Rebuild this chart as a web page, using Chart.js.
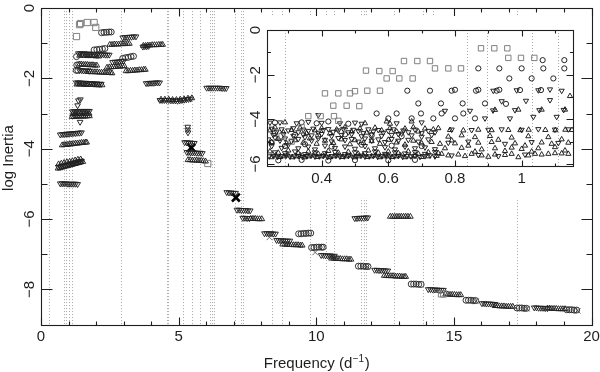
<!DOCTYPE html>
<html>
<head>
<meta charset="utf-8">
<script src="https://cdn.jsdelivr.net/npm/chart.js@4.4.0/dist/chart.umd.min.js"></script>
<style>
  html, body { margin: 0; padding: 0; background: #fff; }
  #wrap { position: relative; width: 600px; height: 372px; }
  canvas { position: absolute; left: 0; top: 0; }
</style>
</head>
<body>
<div id="wrap">
  <canvas id="main" width="600" height="372"></canvas>
  <canvas id="inset" width="600" height="372"></canvas>
</div>
<script>
// mode frequencies (dotted verticals), d^-1
const modeFreqs = [0.29, 0.835, 0.895, 1.03, 1.11, 2.906, 4.567, 4.625, 5.148, 5.475, 5.788, 6.14, 6.22, 6.30,
  7.05, 7.26, 7.35, 8.38, 8.77, 9.78, 10.37, 10.66, 11.61, 11.73, 11.80, 12.84, 13.89, 14.24, 17.28];

// main panel: [frequency, log inertia]
const mainDown = [
  [2.97,-0.84],[3.05,-0.83],[3.13,-0.83],[3.21,-0.82],[3.29,-0.82],[3.37,-0.81],[3.45,-0.81],
  [3.70,-1.10],[3.77,-1.09],[3.84,-1.09],[3.91,-1.08],
  [1.36,-1.29],[1.43,-1.29],[1.50,-1.30],[1.57,-1.29],[1.64,-1.30],[1.71,-1.30],[1.78,-1.31],[1.85,-1.30],[1.92,-1.31],[1.99,-1.31],[2.06,-1.31],[2.13,-1.32],[2.20,-1.32],[2.27,-1.32],[2.34,-1.33],[2.41,-1.33],[2.48,-1.33],
  [2.60,-1.54],[2.68,-1.53],[2.76,-1.53],[2.84,-1.52],[2.92,-1.51],[3.00,-1.50],
  [1.40,-1.77],[1.47,-1.77],[1.54,-1.78],[1.61,-1.78],[1.68,-1.78],[1.75,-1.79],
  [1.28,-2.12],[1.35,-2.12],[1.42,-2.12],[1.49,-2.13],[1.56,-2.13],[1.63,-2.13],[1.70,-2.14],[1.77,-2.14],[1.84,-2.14],[1.91,-2.15],[1.98,-2.15],[2.05,-2.15],[2.12,-2.16],[2.19,-2.16],
  [3.82,-2.14],[3.89,-2.14],[3.96,-2.13],[4.03,-2.13],[4.10,-2.13],[4.17,-2.12],[4.24,-2.12],[4.31,-2.12],
  [6.02,-2.27],[6.10,-2.27],[6.18,-2.27],[6.26,-2.27],[6.34,-2.27],[6.42,-2.27],[6.50,-2.27],[6.58,-2.28],[6.66,-2.28],[6.73,-2.28],
  [4.32,-2.62],[4.40,-2.62],[4.48,-2.62],[4.56,-2.62],[4.64,-2.62],[4.72,-2.63],[4.80,-2.63],[4.88,-2.63],[4.96,-2.64],[5.04,-2.63],[5.12,-2.62],[5.20,-2.61],[5.28,-2.60],[5.36,-2.59],[5.44,-2.58],
  [1.36,-2.63],[1.43,-2.60],[1.33,-2.77],
  [1.14,-2.94],[1.21,-2.94],[1.28,-2.94],[1.35,-2.94],[1.42,-2.93],[1.49,-2.93],[1.56,-2.93],[1.63,-2.93],[1.70,-2.93],[1.76,-2.93],
  [1.42,-3.24],
  [0.70,-3.60],[0.77,-3.59],[0.84,-3.59],[0.91,-3.58],[0.98,-3.58],[1.05,-3.57],[1.12,-3.57],[1.19,-3.56],[1.26,-3.56],[1.33,-3.55],[1.40,-3.55],[1.47,-3.54],
  [0.63,-4.52],[0.70,-4.51],[0.77,-4.49],[0.84,-4.48],[0.91,-4.46],[0.98,-4.45],[1.05,-4.43],[1.12,-4.42],[1.19,-4.40],[1.26,-4.39],[1.33,-4.37],[1.40,-4.36],[1.47,-4.35],
  [0.70,-4.99],[0.77,-4.99],[0.84,-4.99],[0.91,-4.99],[0.98,-5.00],[1.05,-5.00],[1.12,-5.00],[1.19,-5.00],[1.26,-5.00],[1.33,-5.01],
  [5.33,-3.38],[5.33,-3.46],[5.34,-3.54],
  [5.22,-3.82],[5.29,-3.82],[5.36,-3.83],[5.43,-3.83],[5.50,-3.84],[5.57,-3.84],
  [5.30,-4.10],[5.37,-4.10],[5.44,-4.11],[5.51,-4.11],[5.58,-4.11],[5.65,-4.12],[5.72,-4.12],[5.79,-4.12],[5.86,-4.13],
  [6.75,-5.24],[6.83,-5.25],[6.91,-5.25],[6.99,-5.26],[7.07,-5.26],
  [7.12,-5.74],[7.20,-5.74],[7.28,-5.75],[7.36,-5.75],[7.44,-5.75],[7.52,-5.76],[7.60,-5.76],
  [7.33,-5.97],[7.41,-5.97],[7.49,-5.98],[7.57,-5.98],
  [8.12,-6.41],[8.20,-6.41],[8.28,-6.41],[8.36,-6.41],[8.44,-6.42],[8.52,-6.42],
  [8.56,-6.60],[8.64,-6.61],[8.72,-6.61],[8.80,-6.61],[8.88,-6.62],[8.96,-6.62],[9.04,-6.62],
  [10.18,-7.03],[10.26,-7.03],[10.34,-7.04],[10.42,-7.04],[10.50,-7.04],[10.58,-7.05],[10.66,-7.05],
  [11.40,-5.98],[11.48,-5.98],[11.56,-5.97],[11.64,-5.97],[11.72,-5.97],[11.80,-5.96],[11.87,-5.96],
  [12.12,-7.45],[12.20,-7.45],[12.28,-7.46],[12.36,-7.46],[12.44,-7.46],[12.52,-7.47],[12.60,-7.47],
  [14.07,-8.00],[14.15,-8.00],[14.23,-8.01],[14.31,-8.01],[14.39,-8.01],[14.47,-8.02],[14.55,-8.02],[14.62,-8.02],
  [16.02,-8.40],[16.10,-8.40],[16.18,-8.41],[16.26,-8.41],[16.34,-8.41],[16.42,-8.42],[16.50,-8.42],
  [17.92,-8.52],[18.00,-8.52],[18.08,-8.53],[18.16,-8.53],[18.24,-8.53],[18.32,-8.54],[18.40,-8.54]
];
const mainUp = [
  [2.50,-1.04],[2.58,-1.04],[2.66,-1.03],[2.74,-1.03],[2.82,-1.03],[2.90,-1.02],[2.98,-1.02],[3.06,-1.02],[3.14,-1.01],[3.21,-1.01],
  [3.72,-1.07],[3.80,-1.07],[3.88,-1.06],[3.96,-1.06],[4.04,-1.05],[4.12,-1.05],[4.20,-1.05],[4.28,-1.04],[4.36,-1.04],[4.42,-1.04],
  [1.40,-1.35],[1.50,-1.35],[1.60,-1.35],[1.70,-1.36],[1.80,-1.36],[1.90,-1.36],[2.00,-1.37],[2.10,-1.37],
  [1.40,-1.60],[1.47,-1.60],[1.54,-1.61],[1.61,-1.61],[1.68,-1.61],[1.75,-1.62],[1.82,-1.62],[1.89,-1.62],[1.96,-1.63],[2.03,-1.63],
  [2.40,-1.69],[2.48,-1.68],[2.56,-1.68],[2.64,-1.67],[2.72,-1.67],[2.80,-1.66],[2.88,-1.66],[2.96,-1.65],[3.03,-1.65],
  [1.72,-1.81],[1.80,-1.81],[1.88,-1.82],[1.96,-1.82],[2.04,-1.82],[2.12,-1.83],[2.20,-1.83],[2.28,-1.83],[2.36,-1.84],[2.44,-1.84],[2.52,-1.84],[2.58,-1.85],
  [3.09,-1.79],[3.17,-1.79],[3.25,-1.78],[3.33,-1.78],[3.41,-1.77],[3.49,-1.77],[3.57,-1.76],[3.65,-1.76],[3.73,-1.75],[3.79,-1.75],
  [1.30,-2.17],[1.40,-2.17],[1.50,-2.17],[1.60,-2.18],[1.70,-2.18],[1.80,-2.18],[1.90,-2.18],[2.00,-2.19],[2.10,-2.19],[2.22,-2.19],
  [4.36,-2.60],[4.50,-2.60],[4.64,-2.60],[4.78,-2.61],[4.92,-2.61],[5.06,-2.60],[5.20,-2.59],[5.34,-2.57],[5.48,-2.56],
  [1.13,-3.09],[1.20,-3.09],[1.27,-3.09],[1.34,-3.08],[1.41,-3.08],[1.48,-3.08],[1.55,-3.08],[1.62,-3.08],[1.69,-3.07],[1.76,-3.07],
  [1.15,-3.01],[1.25,-3.01],[1.35,-3.01],[1.45,-3.00],[1.55,-3.00],[1.65,-3.00],[1.75,-3.00],
  [0.77,-3.90],[0.84,-3.89],[0.91,-3.89],[0.98,-3.88],[1.05,-3.87],[1.12,-3.87],[1.19,-3.86],[1.26,-3.85],[1.33,-3.85],[1.40,-3.84],[1.47,-3.83],[1.54,-3.83],[1.61,-3.82],[1.66,-3.82],
  [0.62,-4.56],[0.69,-4.55],[0.76,-4.53],[0.83,-4.52],[0.90,-4.50],[0.97,-4.49],[1.04,-4.47],[1.11,-4.46],[1.18,-4.44],[1.25,-4.43],[1.32,-4.41],[1.39,-4.40],[1.46,-4.38],[1.52,-4.37],
  [0.64,-4.44],[0.74,-4.42],[0.84,-4.40],[0.94,-4.38],[1.04,-4.37],[1.14,-4.35],[1.24,-4.33],[1.34,-4.31],[1.44,-4.30],
  [5.34,-4.32],[5.42,-4.32],[5.50,-4.33],[5.58,-4.33],[5.66,-4.33],[5.74,-4.34],[5.82,-4.34],[5.90,-4.35],[5.98,-4.36],
  [7.62,-5.99],[7.70,-5.99],[7.78,-5.99],[7.86,-6.00],[7.94,-6.00],[8.02,-6.00],
  [8.78,-6.72],[8.86,-6.72],[8.94,-6.73],[9.02,-6.73],[9.10,-6.73],[9.18,-6.74],[9.26,-6.74],[9.34,-6.74],[9.42,-6.75],[9.49,-6.75],
  [10.55,-7.12],[10.63,-7.12],[10.71,-7.13],[10.79,-7.13],[10.87,-7.13],[10.95,-7.14],[11.03,-7.14],[11.11,-7.14],[11.19,-7.15],[11.26,-7.15],
  [12.47,-7.61],[12.55,-7.61],[12.63,-7.62],[12.71,-7.62],[12.79,-7.62],[12.87,-7.63],[12.95,-7.63],[13.03,-7.63],[13.11,-7.64],[13.19,-7.64],[13.25,-7.64],
  [12.69,-5.93],[12.77,-5.93],[12.85,-5.93],[12.93,-5.93],[13.01,-5.93],[13.09,-5.93],[13.17,-5.93],[13.25,-5.93],[13.33,-5.93],[13.42,-5.93],
  [14.70,-8.14],[14.78,-8.14],[14.86,-8.15],[14.94,-8.15],[15.02,-8.15],[15.10,-8.16],[15.18,-8.16],[15.25,-8.16],
  [16.50,-8.47],[16.58,-8.47],[16.66,-8.48],[16.74,-8.48],[16.82,-8.48],[16.90,-8.49],[16.98,-8.49],[17.06,-8.49],[17.14,-8.49],
  [18.40,-8.54],[18.48,-8.54],[18.56,-8.55],[18.64,-8.55],[18.72,-8.55],[18.80,-8.56],[18.88,-8.56],[18.96,-8.56],[19.04,-8.56]
];
const mainCircles = [
  [2.20,-0.70],[2.29,-0.69],[2.38,-0.69],[2.47,-0.68],[2.55,-0.68],
  [1.93,-1.19],[2.03,-1.18],[2.13,-1.17],[2.23,-1.16],[2.32,-1.15],
  [1.29,-1.38],
  [2.97,-1.43],[3.07,-1.41],[3.17,-1.40],[3.27,-1.38],[3.36,-1.37],
  [1.30,-1.62],[1.37,-1.61],[1.28,-1.77],[1.34,-1.77],
  [9.36,-6.42],[9.45,-6.42],[9.54,-6.41],[9.63,-6.41],[9.72,-6.40],[9.80,-6.40],
  [9.83,-6.81],[9.92,-6.81],[10.01,-6.80],[10.10,-6.80],[10.19,-6.80],[10.25,-6.80],
  [11.53,-7.34],[11.62,-7.34],[11.71,-7.34],[11.80,-7.35],[11.88,-7.35],
  [13.45,-7.85],[13.54,-7.85],[13.63,-7.85],[13.72,-7.86],[13.81,-7.86],
  [15.44,-8.31],[15.53,-8.31],[15.62,-8.31],[15.71,-8.32],[15.79,-8.32],
  [17.29,-8.53],[17.38,-8.53],[17.47,-8.53],[17.56,-8.54],[17.64,-8.54],
  [19.10,-8.58],[19.19,-8.58],[19.28,-8.58],[19.37,-8.59],[19.46,-8.59]
];
const mainSquares = [[1.29,-0.81],[1.40,-0.47],[1.44,-0.44],[1.68,-0.41],[1.93,-0.41],[1.99,-0.55],[14.55,-8.13],[14.63,-8.13],[6.06,-4.42]];
const mainBoldX = [[5.46,-3.97],[7.08,-5.39]];
const mainThinX = [[8.30,-6.52],[9.96,-6.95],[11.85,-7.36],[15.80,-8.34],[17.65,-8.55],[19.50,-8.61]];

// inset panel: [frequency, log inertia]
const insetSquares = [
  [0.36,-3.86],[0.397,-3.86],[0.437,-3.86],[0.45,-4.07],
  [0.435,-3.39],[0.475,-3.39],[0.513,-3.41],
  [0.41,-2.84],[0.45,-2.84],[0.485,-2.84],[0.50,-2.74],[0.537,-2.72],[0.575,-2.72],
  [0.533,-1.82],[0.573,-1.84],[0.613,-1.84],
  [0.595,-2.17],[0.633,-2.17],[0.673,-2.17],
  [0.647,-1.39],[0.687,-1.39],[0.725,-1.39],
  [0.74,-1.72],[0.78,-1.72],[0.818,-1.72],
  [0.878,-0.82],[0.918,-0.82],[0.957,-0.82],
  [0.96,-1.25],[0.998,-1.25],[1.038,-1.25],
  [0.34,-4.35],[0.28,-4.75],[0.31,-5.00]
];
const insetCircles = [
  [0.657,-2.72],[0.725,-2.72],[0.79,-2.72],[0.80,-2.68],[0.863,-2.72],[0.87,-2.68],[0.925,-2.72],[0.933,-2.68],[0.995,-2.69],[1.058,-2.69],
  [0.87,-1.72],[0.933,-1.72],[1.0,-1.72],[1.065,-1.72],[1.128,-1.72],
  [1.063,-1.35],[1.128,-1.35],
  [0.963,-2.17],[1.03,-2.17],[1.095,-2.17],
  [0.69,-3.29],[0.758,-3.29],[0.823,-3.29],[0.89,-3.29],[0.953,-3.31],
  [0.565,-3.74],[0.625,-3.74],[0.698,-3.74],[0.76,-3.74],[0.825,-3.74],
  [0.60,-3.96],[0.67,-3.96],[0.735,-3.96],[0.80,-3.96],[0.86,-3.96],
  [0.26,-4.15],[0.34,-4.14],[0.385,-4.18],[0.42,-4.10],[0.48,-4.20],
  [0.26,-4.62],[0.32,-4.70],[0.39,-4.74],[0.47,-4.68],[0.55,-4.72],[0.64,-4.76],
  [0.25,-5.05],[0.29,-5.20],[0.35,-5.12],[0.43,-5.22],[0.52,-5.14],[0.61,-5.18],[0.70,-5.20],
  [0.27,-5.84],[0.34,-5.82],[0.42,-5.85],[0.50,-5.83],[0.60,-5.84],[0.68,-5.82]
];
const insetDown = [
  [0.915,-2.72],[0.985,-2.70],[1.05,-2.70],[1.085,-2.66],[1.12,-2.72],
  [0.94,-3.19],[1.013,-3.17],[1.085,-3.14],
  [0.77,-3.62],[0.845,-3.62],[0.914,-3.60],[0.98,-3.59],[1.053,-3.59],[1.126,-3.58],
  [0.89,-3.96],[0.965,-3.96],[1.035,-3.89],[1.105,-3.89],
  [0.79,-4.46],[0.85,-4.48],[0.90,-4.47],[0.94,-4.45],[1.00,-4.47],[1.05,-4.44],[1.10,-4.46],[1.14,-4.45],
  [0.78,-5.05],[0.84,-5.00],[0.95,-5.10],[1.03,-5.02],[1.11,-5.06],
  [0.79,-5.62],[0.87,-5.60],[0.93,-5.65],[1.01,-5.58],
  [0.245,-4.15],[0.275,-4.14],[0.325,-4.18],[0.36,-4.12],[0.39,-3.81],[0.40,-4.16],[0.455,-4.18],[0.50,-4.15],[0.52,-4.20],[0.625,-4.18],[0.70,-4.14],
  [0.25,-4.42],[0.265,-4.55],[0.28,-4.45],[0.30,-4.50],[0.315,-4.40],[0.33,-4.58],[0.345,-4.46],[0.36,-4.52],[0.375,-4.42],[0.39,-4.60],[0.405,-4.48],[0.42,-4.44],[0.435,-4.56],[0.45,-4.50],[0.465,-4.43],[0.48,-4.58],[0.495,-4.47],[0.51,-4.52],[0.525,-4.62],[0.54,-4.45],[0.555,-4.55],[0.57,-4.48],[0.585,-4.60],[0.60,-4.52],[0.615,-4.45],[0.63,-4.66],[0.645,-4.50],[0.66,-4.58],[0.68,-4.46],[0.70,-4.62],[0.72,-4.52],[0.74,-4.58],
  [0.255,-4.70],[0.285,-4.66],[0.315,-4.74],[0.345,-4.68],[0.37,-4.72],[0.40,-4.66],[0.43,-4.75],[0.46,-4.70],[0.49,-4.66],[0.52,-4.76],[0.55,-4.68],[0.58,-4.74],[0.61,-4.70],[0.64,-4.64],[0.67,-4.72],[0.70,-4.78],[0.73,-4.70],
  [0.24,-4.90],[0.26,-4.82],[0.275,-4.95],[0.29,-4.86],[0.31,-4.98],[0.33,-4.88],[0.35,-4.80],[0.37,-4.95],[0.39,-4.85],[0.41,-4.92],[0.43,-4.99],[0.45,-4.84],[0.47,-4.93],[0.49,-4.88],[0.51,-5.00],[0.53,-4.86],[0.55,-4.95],[0.57,-4.90],[0.59,-5.02],[0.61,-4.88],[0.63,-4.96],[0.66,-4.92],[0.69,-5.00],[0.72,-4.90],
  [0.25,-5.20],[0.28,-5.28],[0.30,-5.15],[0.33,-5.30],[0.36,-5.22],[0.38,-5.35],[0.41,-5.18],[0.44,-5.28],[0.47,-5.22],[0.50,-5.32],[0.53,-5.20],[0.56,-5.30],[0.59,-5.25],[0.62,-5.35],[0.65,-5.22],[0.68,-5.30],[0.71,-5.26],[0.74,-5.34],
  [0.26,-5.48],[0.29,-5.52],[0.32,-5.44],[0.35,-5.56],[0.38,-5.48],[0.41,-5.52],[0.44,-5.46],[0.47,-5.56],[0.50,-5.48],[0.53,-5.52],[0.56,-5.44],[0.59,-5.55],[0.62,-5.48],[0.65,-5.53],[0.68,-5.47],[0.71,-5.55],[0.74,-5.46],
  [0.243,-5.66],[0.255,-5.64],[0.268,-5.68],[0.28,-5.65],[0.293,-5.63],[0.305,-5.67],[0.318,-5.66],[0.33,-5.64],[0.343,-5.69],[0.355,-5.65],[0.368,-5.63],[0.38,-5.67],[0.393,-5.66],[0.405,-5.64],[0.418,-5.68],[0.43,-5.65],[0.443,-5.63],[0.455,-5.67],[0.468,-5.66],[0.48,-5.64],[0.493,-5.68],[0.505,-5.65],[0.518,-5.63],[0.53,-5.67],[0.543,-5.66],[0.555,-5.64],[0.568,-5.68],[0.58,-5.65],[0.593,-5.63],[0.605,-5.67],[0.618,-5.66],[0.63,-5.64],[0.643,-5.68],[0.655,-5.65],[0.668,-5.66],[0.68,-5.64],[0.695,-5.68],[0.71,-5.65],[0.725,-5.62],[0.74,-5.66]
];
const insetUp = [
  [1.145,-2.96],
  [0.92,-3.58],[0.99,-3.57],[1.06,-3.57],[1.13,-3.57],
  [0.785,-4.48],[0.825,-4.50],[0.87,-4.47],[0.91,-4.49],[0.96,-4.48],[0.996,-4.49],[1.021,-4.47],[1.071,-4.48],[1.101,-4.49],[1.131,-4.47],[1.151,-4.48],
  [0.78,-4.78],[0.82,-4.72],[0.86,-4.80],[0.905,-4.75],[0.97,-4.82],[1.02,-4.76],[1.08,-4.80],
  [0.79,-4.95],[0.84,-5.18],[0.93,-4.92],[1.01,-5.18],[1.12,-4.90],
  [0.80,-5.08],[0.87,-5.05],[0.91,-5.02],[0.98,-5.08],[1.06,-5.04],[1.09,-5.10],[1.14,-5.05],
  [0.77,-5.30],[0.82,-5.28],[0.88,-5.35],[0.92,-5.30],[0.97,-5.27],[1.00,-5.33],[1.05,-5.30],[1.10,-5.25],
  [0.86,-5.45],[0.95,-5.42],[1.03,-5.45],[1.13,-5.40],
  [0.76,-5.55],[0.78,-5.62],[0.81,-5.58],[0.83,-5.65],[0.85,-5.55],[0.88,-5.62],[0.90,-5.68],[0.92,-5.58],[0.95,-5.60],[0.97,-5.55],[0.99,-5.70],[1.02,-5.62],[1.04,-5.55],[1.06,-5.58],[1.08,-5.55],[1.10,-5.52],[1.12,-5.53],[1.14,-5.55],
  [0.29,-4.14],[0.53,-4.18],[0.595,-4.10],[0.67,-4.10],[0.605,-4.20],
  [0.245,-4.50],[0.26,-4.36],[0.285,-4.58],[0.31,-4.48],[0.335,-4.38],[0.355,-4.62],[0.38,-4.50],[0.40,-4.40],[0.425,-4.64],[0.445,-4.46],[0.47,-4.36],[0.49,-4.55],[0.515,-4.42],[0.535,-4.60],[0.56,-4.38],[0.58,-4.50],[0.605,-4.40],[0.625,-4.55],[0.65,-4.42],[0.675,-4.36],[0.69,-4.55],[0.71,-4.42],[0.735,-4.46],[0.75,-4.40],
  [0.25,-5.02],[0.27,-4.88],[0.295,-5.08],[0.32,-4.94],[0.345,-5.05],[0.365,-4.86],[0.385,-5.10],[0.41,-4.96],[0.435,-5.06],[0.46,-4.90],[0.485,-5.12],[0.50,-4.94],[0.525,-5.06],[0.55,-4.98],[0.575,-5.10],[0.60,-4.92],[0.625,-5.04],[0.65,-5.14],[0.675,-4.96],[0.70,-5.08],[0.73,-5.02],[0.755,-5.10],
  [0.245,-5.44],[0.27,-5.50],[0.30,-5.40],[0.33,-5.52],[0.36,-5.45],[0.39,-5.55],[0.42,-5.42],[0.45,-5.50],[0.48,-5.46],[0.51,-5.55],[0.54,-5.40],[0.57,-5.50],[0.60,-5.45],[0.63,-5.52],[0.66,-5.44],[0.69,-5.55],[0.72,-5.48],[0.75,-5.52],
  [0.25,-5.70],[0.262,-5.62],[0.275,-5.69],[0.287,-5.66],[0.30,-5.62],[0.312,-5.70],[0.325,-5.66],[0.337,-5.62],[0.35,-5.70],[0.362,-5.66],[0.375,-5.62],[0.387,-5.69],[0.40,-5.66],[0.412,-5.62],[0.425,-5.70],[0.437,-5.66],[0.45,-5.62],[0.462,-5.69],[0.475,-5.66],[0.487,-5.62],[0.50,-5.70],[0.512,-5.66],[0.525,-5.62],[0.537,-5.69],[0.55,-5.66],[0.562,-5.62],[0.575,-5.70],[0.587,-5.66],[0.60,-5.62],[0.612,-5.69],[0.625,-5.66],[0.637,-5.62],[0.65,-5.70],[0.665,-5.66],[0.68,-5.62],[0.70,-5.69],[0.72,-5.66],[0.745,-5.64]
];

// tick labels
const mainXTicks = [0, 5, 10, 15, 20];
const mainXLabels = ['0', '5', '10', '15', '20'];
const mainYTicks = [0, -2, -4, -6, -8];
const mainYLabels = ['0', '\u22122', '\u22124', '\u22126', '\u22128'];
const insetXTicks = [0.4, 0.6, 0.8, 1.0];
const insetXLabels = ['0.4', '0.6', '0.8', '1'];
const insetYTicks = [0, -2, -4, -6];
const insetYLabels = ['0', '\u22122', '\u22124', '\u22126'];

const FONT = '"Liberation Sans", Arial, sans-serif';
const INK = '#1e1e1e';

function steps(min, max, step) {
  const out = [];
  for (let v = Math.ceil(min / step - 1e-9) * step; v <= max + 1e-9; v += step) out.push(+v.toFixed(6));
  return out;
}
const isMajor = (list, v) => list.some(m => Math.abs(m - v) < 1e-6);

function markers(pts, style, r, color, opts) {
  return Object.assign({
    data: pts.map(([x, y]) => ({ x, y })),
    pointStyle: style, pointRadius: r, pointRotation: 0,
    borderColor: color, backgroundColor: 'rgba(0,0,0,0)',
    borderWidth: 0.95, pointBorderWidth: 0.95, showLine: false
  }, opts || {});
}

const framePlugin = {
  id: 'frame',
  beforeDraw(chart, args, o) {
    if (!o.white) return;
    const ctx = chart.ctx;
    ctx.save();
    ctx.fillStyle = '#fff';
    ctx.fillRect(o.white[0], o.white[1], o.white[2], o.white[3]);
    ctx.restore();
  },
  beforeDatasetsDraw(chart, args, o) {
    const { ctx, chartArea: a, scales: { x } } = chart;
    ctx.save();
    ctx.strokeStyle = '#a8a8a8';
    ctx.lineWidth = 1;
    ctx.setLineDash([1, 2]);
    modeFreqs.forEach(f => {
      if (f < x.min || f > x.max) return;
      const px = Math.round(x.getPixelForValue(f)) + 0.5;
      ctx.beginPath();
      ctx.moveTo(px, a.top);
      ctx.lineTo(px, a.bottom);
      ctx.stroke();
    });
    ctx.restore();
  },
  afterDraw(chart, args, o) {
    const { ctx, chartArea: a, scales: { x, y } } = chart;
    ctx.save();
    ctx.strokeStyle = INK;
    ctx.lineWidth = 1.1;
    const L = Math.round(a.left) + 0.5, R = Math.round(a.right) + 0.5;
    const T = Math.round(a.top) + 0.5, B = Math.round(a.bottom) + 0.5;
    ctx.strokeRect(L, T, R - L, B - T);
    ctx.beginPath();
    steps(x.min, x.max, o.xStep).forEach(v => {
      const px = Math.round(x.getPixelForValue(v)) + 0.5;
      const len = isMajor(o.xTicks, v) ? o.xLen[0] : o.xLen[1];
      ctx.moveTo(px, B); ctx.lineTo(px, B - len);
      ctx.moveTo(px, T); ctx.lineTo(px, T + len);
    });
    steps(y.min, y.max, o.yStep).forEach(v => {
      const py = Math.round(y.getPixelForValue(v)) + 0.5;
      const len = isMajor(o.yTicks, v) ? o.yLen[0] : o.yLen[1];
      ctx.moveTo(L, py); ctx.lineTo(L + len, py);
      ctx.moveTo(R, py); ctx.lineTo(R - len, py);
    });
    ctx.stroke();

    ctx.fillStyle = INK;
    ctx.font = o.fontSize + 'px ' + FONT;
    ctx.textAlign = 'center';
    ctx.textBaseline = 'middle';
    o.xTicks.forEach((v, i) => ctx.fillText(o.xLabels[i], x.getPixelForValue(v), o.xLabelY));
    o.yTicks.forEach((v, i) => {
      ctx.save();
      ctx.translate(o.yLabelX, y.getPixelForValue(v));
      ctx.rotate(-Math.PI / 2);
      ctx.fillText(o.yLabels[i], 0, 0);
      ctx.restore();
    });

    if (o.titles) {
      ctx.font = '15px ' + FONT;
      ctx.textBaseline = 'alphabetic';
      ctx.textAlign = 'left';
      const base = 'Frequency (d', sup = '\u22121', end = ')';
      const w1 = ctx.measureText(base).width;
      ctx.font = '10px ' + FONT;
      const w2 = ctx.measureText(sup).width;
      ctx.font = '15px ' + FONT;
      const w3 = ctx.measureText(end).width;
      let sx = (a.left + a.right) / 2 - (w1 + w2 + w3) / 2;
      ctx.fillText(base, sx, 368);
      ctx.font = '10px ' + FONT;
      ctx.fillText(sup, sx + w1 + 0.5, 362);
      ctx.font = '15px ' + FONT;
      ctx.fillText(end, sx + w1 + w2 + 1, 368);

      ctx.save();
      ctx.translate(13, 158);
      ctx.rotate(-Math.PI / 2);
      ctx.textAlign = 'center';
      ctx.fillText('log Inertia', 0, 0);
      ctx.restore();
    }
    ctx.restore();
  }
};

const common = {
  responsive: false, animation: false, devicePixelRatio: 1, events: [],
  plugins: { legend: { display: false }, tooltip: { enabled: false } }
};

new Chart(document.getElementById('main'), {
  type: 'scatter',
  data: {
    datasets: [
      markers(mainSquares, 'rect', 4.4, '#7a7a7a'),
      markers(mainCircles, 'circle', 3, '#2a2a2a'),
      markers(mainUp, 'triangle', 3.3, '#222'),
      markers(mainDown, 'triangle', 3.3, '#222', { pointRotation: 180 }),
      markers(mainThinX, 'crossRot', 4, '#666'),
      markers(mainBoldX, 'crossRot', 5.5, '#000', { borderWidth: 2.6, pointBorderWidth: 2.6 })
    ]
  },
  options: Object.assign({}, common, {
    layout: { padding: { left: 41, top: 6, right: 8.5, bottom: 47.5 } },
    scales: {
      x: { type: 'linear', min: 0, max: 20, display: false },
      y: { type: 'linear', min: -9, max: 0, display: false }
    },
    plugins: Object.assign({}, common.plugins, {
      frame: {
        xTicks: mainXTicks, xLabels: mainXLabels, xStep: 1, xLen: [8, 4], xLabelY: 337,
        yTicks: mainYTicks, yLabels: mainYLabels, yStep: 1, yLen: [11, 6], yLabelX: 29.5,
        fontSize: 15, titles: true
      }
    })
  }),
  plugins: [framePlugin]
});

new Chart(document.getElementById('inset'), {
  type: 'scatter',
  data: {
    datasets: [
      markers(insetSquares, 'rect', 3.8, '#7a7a7a'),
      markers(insetCircles, 'circle', 2.6, '#1a1a1a'),
      markers(insetUp, 'triangle', 3, '#1a1a1a'),
      markers(insetDown, 'triangle', 3, '#1a1a1a', { pointRotation: 180 })
    ]
  },
  options: Object.assign({}, common, {
    layout: { padding: { left: 267.3, top: 30, right: 27, bottom: 206.3 } },
    scales: {
      x: { type: 'linear', min: 0.237, max: 1.154, display: false },
      y: { type: 'linear', min: -6.08, max: 0, display: false }
    },
    plugins: Object.assign({}, common.plugins, {
      frame: {
        white: [247, 16, 331, 182],
        xTicks: insetXTicks, xLabels: insetXLabels, xStep: 0.1, xLen: [6, 3], xLabelY: 178.5,
        yTicks: insetYTicks, yLabels: insetYLabels, yStep: 1, yLen: [7, 3.5], yLabelX: 255.5,
        fontSize: 15, titles: false
      }
    })
  }),
  plugins: [framePlugin]
});
</script>
</body>
</html>
